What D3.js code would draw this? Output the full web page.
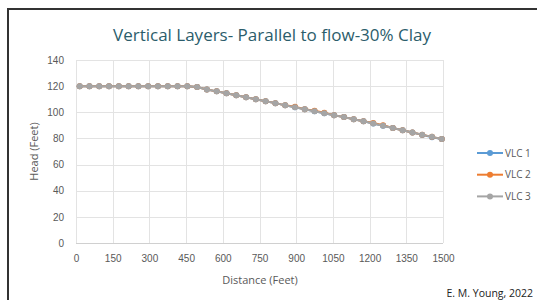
<!DOCTYPE html>
<html>
<head>
<meta charset="utf-8">
<title>Vertical Layers - Parallel to flow - 30% Clay</title>
<script src="https://d3js.org/d3.v7.min.js"></script>
<style>
    body { margin: 0; background: #fff; }
    svg { font-family: "Open Sans", sans-serif; }
    .grid line { stroke: #e3e3e3; stroke-width: 1; }
    .axis path, .axis line { display: none; }
    .axis text { fill: #595959; font-size: 10px; }
</style>
</head>
<body>
<svg id="chart"></svg>
<script>
    // distance (ft) of each observation point
    var distance = d3.range(38).map(function(i) { return 15 + 40 * i; });

    var vlc1 = [120, 120, 120, 120, 120, 120, 120, 120, 120, 120, 120, 120,
        119.3, 117.5, 116, 114.5, 113, 111.5, 110, 108.5, 107, 105.3,
        103.8, 102.3, 100.8, 99.3, 97.8, 96.3, 94.7, 93.1, 91.4, 89.7,
        88, 86.3, 84.6, 82.7, 80.9, 79.5];
    var vlc2 = [120, 120, 120, 120, 120, 120, 120, 120, 120, 120, 120, 120,
        119.3, 117.5, 116, 114.5, 113, 111.5, 110, 108.5, 107, 105.3,
        104.2, 102.3, 101.2, 99.7, 97.8, 96.3, 94.7, 93.1, 91.8, 90.1,
        88, 86.3, 84.6, 82.9, 81.2, 79.5];
    var vlc3 = [120, 120, 120, 120, 120, 120, 120, 120, 120, 120, 120, 120,
        119.3, 117.5, 116, 114.5, 113, 111.5, 110, 108.5, 107, 105.3,
        103.8, 102.3, 100.8, 99.3, 97.8, 96.3, 94.7, 93.1, 91.4, 89.7,
        88, 86.3, 84.6, 82.9, 81.2, 79.5];

    var seriesNames = ["VLC 1", "VLC 2", "VLC 3"];
    var seriesColors = ["#5b9bd5", "#ed7d31", "#a5a5a5"];
    var xTicks = [0, 150, 300, 450, 600, 750, 900, 1050, 1200, 1350, 1500];
    var yTicks = [0, 20, 40, 60, 80, 100, 120, 140];

    var W = 537, H = 300;
    var svg = d3.select("#chart").attr("width", W).attr("height", H);

    // frame
    svg.append("line").attr("x1", 7).attr("x2", W).attr("y1", 9).attr("y2", 9)
        .attr("stroke", "#333").attr("stroke-width", 2);
    svg.append("line").attr("x1", 8).attr("x2", 8).attr("y1", 9).attr("y2", H)
        .attr("stroke", "#333").attr("stroke-width", 2);

    var x = d3.scaleLinear().domain([0, 1500]).range([76, 443]);
    var y = d3.scaleLinear().domain([0, 140]).range([243, 60]);

    // gridlines
    var grid = svg.append("g").attr("class", "grid");
    grid.selectAll(".h").data(yTicks).enter().append("line")
        .attr("x1", x(0)).attr("x2", x(1500))
        .attr("y1", function(d) { return Math.round(y(d)) + 0.5; })
        .attr("y2", function(d) { return Math.round(y(d)) + 0.5; });
    grid.selectAll(".v").data(xTicks).enter().append("line")
        .attr("y1", y(0)).attr("y2", y(140))
        .attr("x1", function(d) { return Math.round(x(d)) + 0.5; })
        .attr("x2", function(d) { return Math.round(x(d)) + 0.5; });
    // baseline a bit darker
    svg.append("line").attr("x1", x(0)).attr("x2", x(1500))
        .attr("y1", Math.round(y(0)) + 0.5).attr("y2", Math.round(y(0)) + 0.5)
        .attr("stroke", "#d0d0d0");

    // axes
    svg.append("g").attr("class", "axis")
        .attr("transform", "translate(0," + (y(0) + 4) + ")")
        .call(d3.axisBottom(x).tickValues(xTicks).tickFormat(d3.format("d"))
            .tickSize(0).tickPadding(8));
    svg.append("g").attr("class", "axis")
        .attr("transform", "translate(" + (x(0) - 4) + ",0)")
        .call(d3.axisLeft(y).tickValues(yTicks).tickSize(0).tickPadding(8));

    // series
    var allSeries = [vlc1, vlc2, vlc3];
    var line = d3.line()
        .x(function(d, i) { return x(distance[i]); })
        .y(function(d) { return y(d); });

    allSeries.forEach(function(s, k) {
        svg.append("path").datum(s)
            .attr("d", line)
            .attr("fill", "none")
            .attr("stroke", seriesColors[k])
            .attr("stroke-width", 2);
        svg.selectAll(".pt" + k).data(s).enter().append("circle")
            .attr("cx", function(d, i) { return x(distance[i]); })
            .attr("cy", function(d) { return y(d); })
            .attr("r", 3)
            .attr("fill", seriesColors[k]);
    });

    // legend
    var legend = svg.append("g");
    seriesNames.forEach(function(name, k) {
        var ly = 153 + k * 21.7;
        legend.append("line").attr("x1", 477).attr("x2", 503)
            .attr("y1", ly).attr("y2", ly)
            .attr("stroke", seriesColors[k]).attr("stroke-width", 2);
        legend.append("circle").attr("cx", 490).attr("cy", ly).attr("r", 3)
            .attr("fill", seriesColors[k]);
        legend.append("text").attr("x", 505).attr("y", ly + 3.5)
            .attr("font-size", 10).attr("fill", "#595959").text(name);
    });

    // titles
    svg.append("text").attr("x", 272).attr("y", 41).attr("text-anchor", "middle")
        .attr("font-size", 17).attr("fill", "#2b5d6b")
        .text("Vertical Layers- Parallel to flow-30% Clay");
    svg.append("text").attr("x", 260).attr("y", 284).attr("text-anchor", "middle")
        .attr("font-size", 11).attr("fill", "#595959").text("Distance (Feet)");
    svg.append("text")
        .attr("transform", "translate(38," + y(70) + ") rotate(-90)")
        .attr("text-anchor", "middle")
        .attr("font-size", 11).attr("fill", "#595959").text("Head (Feet)");
    svg.append("text").attr("x", 533).attr("y", 297).attr("text-anchor", "end")
        .attr("font-size", 10.5).attr("fill", "#222").text("E. M. Young, 2022");
</script>
</body>
</html>
